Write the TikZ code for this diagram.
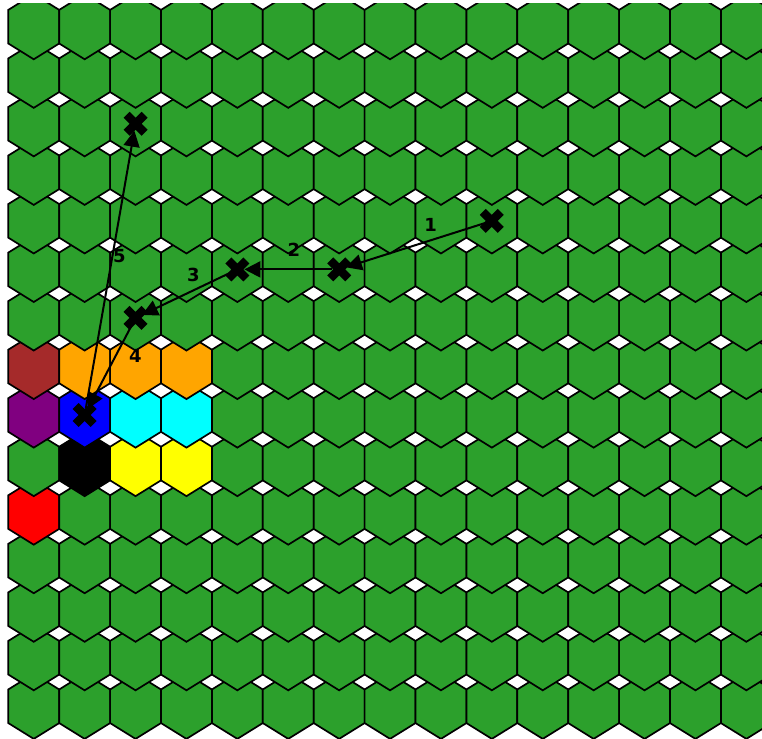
\documentclass[tikz,border=0pt]{standalone}
\usepackage{fontspec}
\setmainfont{DejaVu Sans}
\usetikzlibrary{arrows.meta}
\definecolor{hgreen}{HTML}{2CA02C}
\definecolor{hbrown}{HTML}{A52A2A}
\definecolor{horange}{HTML}{FFA500}
\definecolor{hpurple}{HTML}{800080}
\definecolor{hblue}{HTML}{0000FF}
\definecolor{hcyan}{HTML}{00FFFF}
\definecolor{hyellow}{HTML}{FFFF00}
\definecolor{hred}{HTML}{FF0000}
\definecolor{hblack}{HTML}{000000}
\expandafter\def\csname hc7-0\endcsname{hbrown}
\expandafter\def\csname hc7-1\endcsname{horange}
\expandafter\def\csname hc7-2\endcsname{horange}
\expandafter\def\csname hc7-3\endcsname{horange}
\expandafter\def\csname hc8-0\endcsname{hpurple}
\expandafter\def\csname hc8-1\endcsname{hblue}
\expandafter\def\csname hc8-2\endcsname{hcyan}
\expandafter\def\csname hc8-3\endcsname{hcyan}
\expandafter\def\csname hc9-1\endcsname{hblack}
\expandafter\def\csname hc9-2\endcsname{hyellow}
\expandafter\def\csname hc9-3\endcsname{hyellow}
\expandafter\def\csname hc10-0\endcsname{hred}
\newcommand\drawxmark[1]{\fill[shift={(#1)}] (-6,-12) -- (0,-6) -- (6,-12) -- (12,-6) -- (6,0) -- (12,6) -- (6,12) -- (0,6) -- (-6,12) -- (-12,6) -- (-6,0) -- (-12,-6) -- cycle;}
\begin{document}
\begin{tikzpicture}[x=1pt,y=-1pt,
  hexcell/.style={draw=black,line width=1.7pt,line join=miter},
  arr/.style={line width=2pt,-{Triangle[length=16pt,width=16pt]},shorten >=7pt,shorten <=7pt},
  lbl/.style={font=\fontsize{18}{20}\selectfont\bfseries,inner sep=0pt}]
\useasboundingbox (0,0) rectangle (762,738);
\begin{scope}
\clip (0,4) rectangle (762,738);
\foreach \r in {14,13,...,0}{
  \foreach \c in {0,...,14}{
    \ifcsname hc\r-\c\endcsname
      \edef\hcol{\csname hc\r-\c\endcsname}
    \else
      \def\hcol{hgreen}
    \fi
    \pgfmathsetmacro\cx{33.75+50.9*\c}
    \pgfmathsetmacro\cy{26.7+48.54*\r}
    \filldraw[hexcell,fill=\hcol] (\cx,\cy-32.6) -- (\cx+25.45,\cy-16.8) -- (\cx+25.45,\cy+16.8) -- (\cx,\cy+32.6) -- (\cx-25.45,\cy+16.8) -- (\cx-25.45,\cy-16.8) -- cycle;
  }
}
\end{scope}
% marker positions
\coordinate (m1) at (33.75+50.9*9, 26.7+48.54*4);
\coordinate (m2) at (33.75+50.9*6, 26.7+48.54*5);
\coordinate (m3) at (33.75+50.9*4, 26.7+48.54*5);
\coordinate (m4) at (33.75+50.9*2, 26.7+48.54*6);
\coordinate (m5) at (33.75+50.9*1, 26.7+48.54*8);
\coordinate (m6) at (33.75+50.9*2, 26.7+48.54*2);
\draw[arr] (m1) -- (m2);
\draw[arr] (m2) -- (m3);
\draw[arr] (m3) -- (m4);
\draw[arr] (m4) -- (m5);
\draw[arr] (m5) -- (m6);
\foreach \m in {m1,m2,m3,m4,m5,m6}{\drawxmark{\m}}
\node[lbl] (l1) at (430.7,225) {1};
\node[lbl] (l2) at (294,250) {2};
\node[lbl] (l3) at (193.5,274.5) {3};
\node[lbl] (l4) at (135.3,356) {4};
\node[lbl] (l5) at (119.3,256) {5};
\end{tikzpicture}
\end{document}
